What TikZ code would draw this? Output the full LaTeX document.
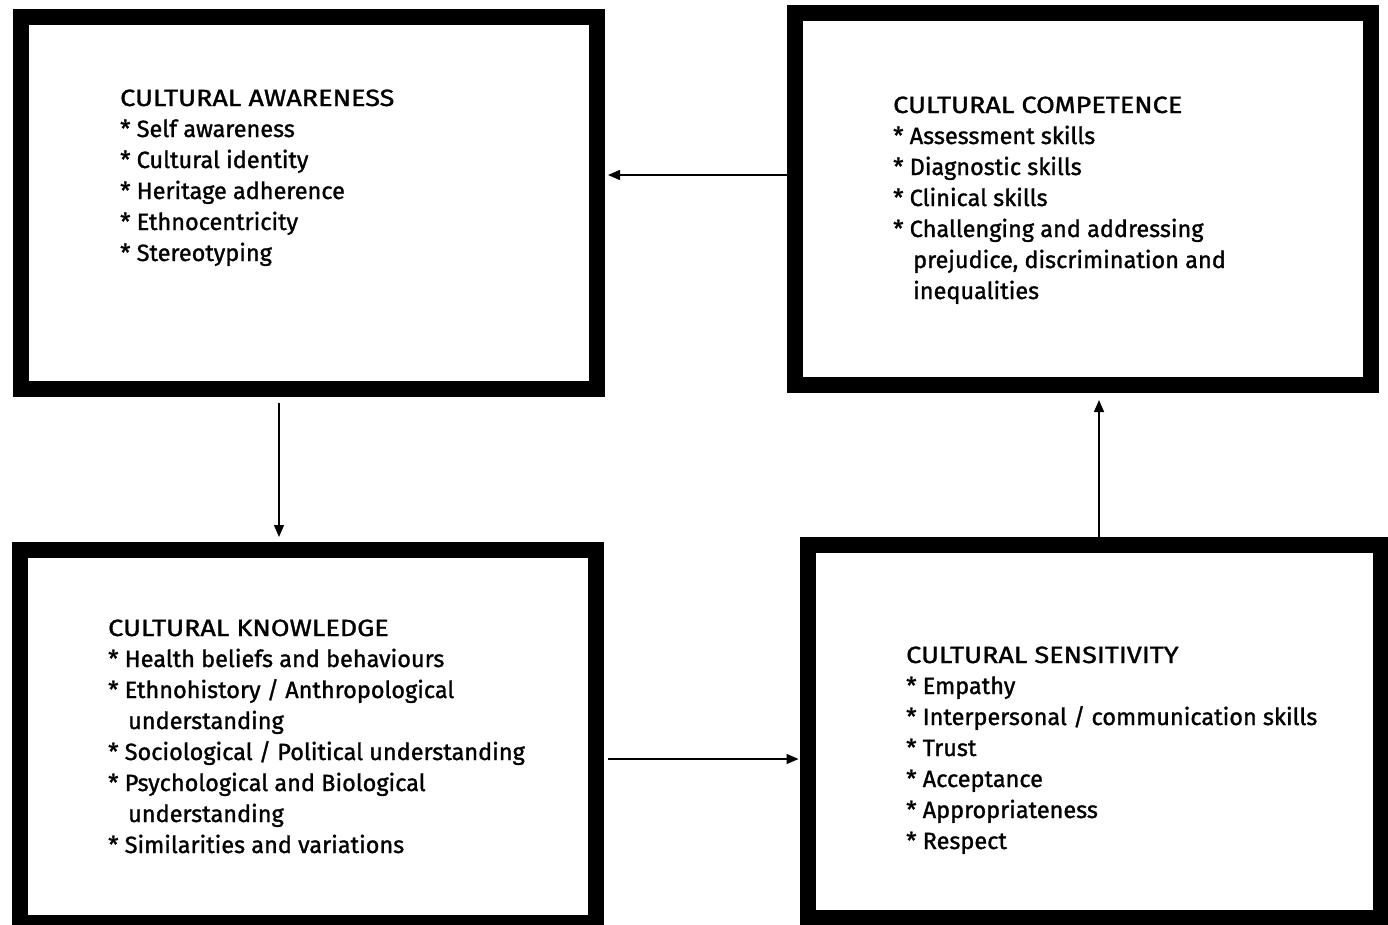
\documentclass[tikz,border=0pt]{standalone}
\usepackage{fontspec}
\usepackage{graphicx}
\setmainfont{Fira Sans}[FakeBold=1.2]
\usetikzlibrary{arrows.meta}
% headings are set a little wider than the list items
\newcommand\boxheading[1]{\scalebox{1.15}[1]{#1}}
\begin{document}
\begin{tikzpicture}[x=1pt,y=-1pt,
  framebox/.style={draw=black,line width=16pt,minimum width=576pt,minimum height=372pt,inner sep=0pt},
  boxtext/.style={anchor=base west,align=left,inner sep=0pt,font=\fontsize{23.5}{31}\selectfont},
  arr/.style={line width=1.5pt,-{Triangle[length=12pt,width=10pt]}}]
\useasboundingbox (0,0) rectangle (1388,924);
\clip (0,0) rectangle (1388,924);
% the four framed boxes
\node[framebox] (aware) at (309,203) {};
\node[framebox] (compet) at (1083,199) {};
\node[framebox,minimum height=373pt] (know) at (307.5,736.5) {};
\node[framebox,minimum width=573pt,minimum height=373pt] (sens) at (1094,731) {};
% box contents, each placed by the baseline of its last line
\node[boxtext] (awaretext) at (120,261) {\boxheading{CULTURAL AWARENESS}\\
* Self awareness\\
* Cultural identity\\
* Heritage adherence\\
* Ethnocentricity\\
* Stereotyping};
\node[boxtext] (compettext) at (893,299) {\boxheading{CULTURAL COMPETENCE}\\
* Assessment skills\\
* Diagnostic skills\\
* Clinical skills\\
* Challenging and addressing\\
\hspace*{20pt}prejudice, discrimination and\\
\hspace*{20pt}inequalities};
\node[boxtext] (knowtext) at (108,853) {\boxheading{CULTURAL KNOWLEDGE}\\
* Health beliefs and behaviours\\
* Ethnohistory / Anthropological\\
\hspace*{20pt}understanding\\
* Sociological / Political understanding\\
* Psychological and Biological\\
\hspace*{20pt}understanding\\
* Similarities and variations};
\node[boxtext] (senstext) at (906,849) {\boxheading{CULTURAL SENSITIVITY}\\
* Empathy\\
* Interpersonal / communication skills\\
* Trust\\
* Acceptance\\
* Appropriateness\\
* Respect};
% connectors
\coordinate (c1) at ([yshift=24pt]compet.west);
\draw[arr,shorten >=3pt] (c1) -- (c1 -| aware.east);
\coordinate (c2) at ([xshift=-30pt]aware.south);
\draw[arr,shorten <=6pt,shorten >=5pt] (c2) -- (c2 |- know.north);
\coordinate (c3) at ([xshift=5pt]sens.north);
\draw[arr,shorten >=7pt] (c3) -- (c3 |- compet.south);
\coordinate (c4) at ([yshift=-22.5pt]know.east);
\draw[arr,shorten <=4pt,shorten >=1pt] (c4) -- (c4 -| sens.west);
\end{tikzpicture}
\end{document}
